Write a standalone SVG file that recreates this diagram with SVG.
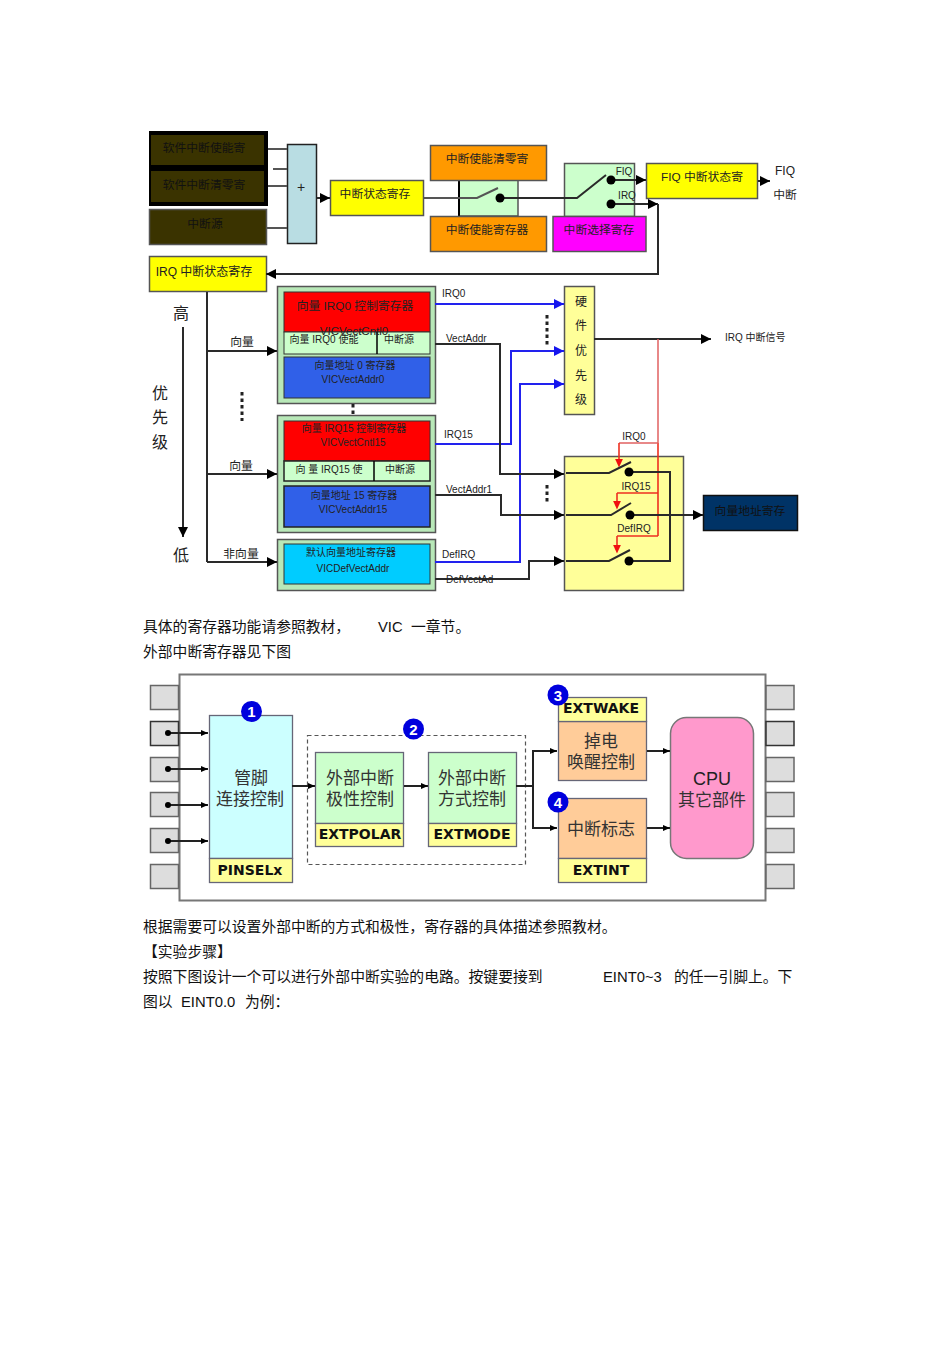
<svg xmlns="http://www.w3.org/2000/svg" width="950" height="1345" viewBox="0 0 950 1345">
<style>
text{font-family:"Liberation Sans","Noto Sans CJK SC",sans-serif;text-anchor:middle;fill:#222;font-size:11.800px}
.s{font-size:10px}
.l{text-anchor:start}
.b{font-size:14px}
.p{font-size:14.800px;text-anchor:start;fill:#111}
.k{font-weight:bold;fill:#111;font-family:"DejaVu Sans","Liberation Sans",sans-serif;font-size:14px}
.c{font-size:17px;fill:#333}
.n{font-size:15px;font-weight:bold;fill:#fff}
.box{stroke:#555;stroke-width:1.5}
.w{fill:none;stroke:#2a2a2a;stroke-width:2}
.a{marker-end:url(#ar)}
.bl{fill:none;stroke:#2222ee;stroke-width:2;marker-end:url(#ab)}
.r{fill:none;stroke:#e06060;stroke-width:1.5}
.ro{fill:none;stroke:#ee3020;stroke-width:1.6}
.ra{marker-end:url(#ae)}
.d{fill:#000}
.gw{fill:none;stroke:#222;stroke-width:2}
.ga{marker-end:url(#as)}
.pin{fill:#ddd;stroke:#666;stroke-width:1.5}
.dl{fill:none;stroke:#222;stroke-width:3;stroke-dasharray:3.500 3}
.t{stroke:#667;stroke-width:1.3}
</style>
<defs>
<marker id="ar" markerUnits="userSpaceOnUse" markerWidth="11" markerHeight="11" refX="10" refY="5.500" orient="auto"><path d="M0 0.500L10 5.500L0 10.500z" fill="#000"/></marker>
<marker id="ab" markerUnits="userSpaceOnUse" markerWidth="11" markerHeight="11" refX="10" refY="5.500" orient="auto"><path d="M0 0.500L10 5.500L0 10.500z" fill="#1515ee"/></marker>
<marker id="ae" markerUnits="userSpaceOnUse" markerWidth="11" markerHeight="11" refX="5.500" refY="5.500" orient="auto"><path d="M-2 0.500L9 5.500L-2 10.500z" fill="#f01010"/></marker>
<marker id="as" markerUnits="userSpaceOnUse" markerWidth="8" markerHeight="8" refX="7" refY="4" orient="auto"><path d="M0 1L7 4L0 7z" fill="#000"/></marker>
</defs>
<rect width="950" height="1345" fill="#fff"/>

<g id="sw-group"><rect x="149" y="131" width="119" height="75" fill="#000"/></g>
<g id="n1"><rect x="151" y="135" width="113" height="30" fill="#3a3300"/><text x="204" y="152" style="fill:#111">软件中断使能寄</text></g>
<g id="n2"><rect x="151" y="171" width="113" height="31" fill="#3a3300"/><text x="204" y="189" style="fill:#111">软件中断清零寄</text></g>
<g id="n3"><rect x="149.500" y="209.500" width="117" height="35" fill="#3a3300" class="box"/><text x="205" y="228" style="fill:#111">中断源</text></g>
<g id="plus"><rect x="287.500" y="144.500" width="29" height="99" fill="#b9dde3" class="box" style="stroke:#222"/><text x="301" y="192" class="b">+</text></g>
<g id="status"><rect x="330.500" y="180.500" width="93" height="35" fill="#ff0" class="box"/><text x="375" y="198">中断状态寄存</text></g>
<g id="sw1"><rect x="459" y="180" width="59" height="36" fill="#ccffcc" class="box"/><path d="M459 180V216" stroke="#000" stroke-width="2"/></g>
<g id="clr"><rect x="430.500" y="145.500" width="116" height="35" fill="#f90" class="box"/><text x="487" y="163">中断使能清零寄</text></g>
<g id="en"><rect x="430.500" y="216.500" width="116" height="35" fill="#f90" class="box"/><text x="487" y="234">中断使能寄存器</text></g>
<g id="sw2"><rect x="564.500" y="163.500" width="70" height="53" fill="#ccffcc" class="box"/><text x="624" y="175" class="s">FIQ</text><text x="627" y="199" class="s">IRQ</text></g>
<g id="sel"><rect x="553" y="216.500" width="93" height="35" fill="#f0f" class="box"/><text x="599" y="234">中断选择寄存</text></g>
<g id="fiq"><rect x="646.500" y="163.500" width="111" height="35" fill="#ff0" class="box"/><text x="702" y="181">FIQ 中断状态寄</text></g>
<text x="785" y="175" style="font-size:12px">FIQ</text>
<text x="785" y="199">中断</text>
<g id="irq"><rect x="149.500" y="256.500" width="117" height="35" fill="#ff0" class="box"/><text x="204" y="276" style="font-size:12px">IRQ 中断状态寄存</text></g>

<text x="181" y="319" style="font-size:16px">高</text>
<text x="160" y="399" style="font-size:16px">优</text>
<text x="160" y="423" style="font-size:16px">先</text>
<text x="160" y="448" style="font-size:16px">级</text>
<text x="181" y="561" style="font-size:16px">低</text>
<text x="242" y="346">向量</text>
<text x="241" y="470">向量</text>
<text x="241" y="558">非向量</text>

<g id="vic0"><rect x="277.500" y="286.500" width="158" height="117" fill="#b8e8b8" class="box"/>
<rect x="284" y="292" width="146" height="40" fill="#f00" stroke="#333"/><text x="355" y="310">向量 IRQ0 控制寄存器</text>
<rect x="284" y="332" width="146" height="22" fill="#ccffcc" stroke="#333"/><path d="M377 332V354" stroke="#000" stroke-width="1.500"/><text x="324" y="343" class="s">向量 IRQ0 使能</text><text x="399" y="343" class="s">中断源</text>
<text x="354" y="335" style="font-size:11.500px">VICVectCntl0</text>
<rect x="284" y="357" width="146" height="41" fill="#3060e8" stroke="#333"/><text x="355" y="369" class="s">向量地址 0 寄存器</text><text x="353" y="383" class="s">VICVectAddr0</text></g>

<g id="vic15"><rect x="277.500" y="415.500" width="158" height="117" fill="#b8e8b8" class="box"/>
<rect x="284" y="421" width="146" height="40" fill="#f00" stroke="#333"/><text x="354" y="432" class="s">向量 IRQ15 控制寄存器</text><text x="353" y="446" class="s">VICVectCntl15</text>
<rect x="284" y="461" width="146" height="20" fill="#ccffcc" stroke="#222" stroke-width="1.500"/><path d="M374 461V481" stroke="#000" stroke-width="1.500"/><text x="329" y="473" class="s">向 量 IRQ15 使</text><text x="400" y="473" class="s">中断源</text>
<rect x="284" y="486" width="146" height="41" fill="#3060e8" stroke="#222" stroke-width="1.500"/><text x="354" y="499" class="s">向量地址 15 寄存器</text><text x="353" y="513" class="s">VICVectAddr15</text></g>

<g id="vicdef"><rect x="277.500" y="539.500" width="158" height="51" fill="#b8e8b8" class="box"/>
<rect x="284" y="544" width="146" height="40" fill="#00ccff" stroke="#333"/><text x="351" y="556" class="s">默认向量地址寄存器</text><text x="353" y="572" class="s">VICDefVectAddr</text></g>

<text x="442" y="297" class="s l">IRQ0</text>
<text x="446" y="342" class="s l">VectAddr</text>
<text x="444" y="438" class="s l">IRQ15</text>
<text x="446" y="493" class="s l">VectAddr1</text>
<text x="442" y="558" class="s l">DefIRQ</text>

<g id="hw"><rect x="564.500" y="286.500" width="30" height="128" fill="#ffff99" class="box"/>
<text x="581" y="306" style="font-size:12px">硬</text><text x="581" y="330" style="font-size:12px">件</text><text x="581" y="355" style="font-size:12px">优</text><text x="581" y="380" style="font-size:12px">先</text><text x="581" y="404" style="font-size:12px">级</text></g>
<text x="725" y="341" class="s l">IRQ 中断信号</text>

<g id="swbox"><rect x="564.500" y="456.500" width="119" height="134" fill="#ffff99" class="box"/>
<text x="634" y="440" class="s">IRQ0</text><text x="636" y="490" class="s">IRQ15</text><text x="634" y="532" class="s">DefIRQ</text></g>
<g id="vaddr"><rect x="703.500" y="495.500" width="94" height="35" fill="#003366" stroke="#111" stroke-width="1.500"/><text x="750" y="515" style="fill:#111">向量地址寄存</text></g>

<g id="connectors">
<path class="w" style="stroke:#555" d="M268 149H287M273 169H287M268 186H287M266 228H287"/>
<path class="w a" d="M317 198H330"/>
<path class="w" style="stroke:#555" d="M424 198H477L498 188"/>
<path class="w" d="M500 198H577L606 175"/>
<circle cx="500" cy="198" r="4.500" class="d"/>
<path class="w a" d="M611 180H646"/>
<path class="w a" d="M611 204H658"/>
<circle cx="611" cy="180" r="4.500" class="d"/><circle cx="611" cy="204" r="4.500" class="d"/>
<path class="w a" d="M758 181H770"/>
<path class="w a" d="M658 204V274H266"/>
<path class="w" d="M207 292V562"/>
<path class="w a" d="M207 351H277"/>
<path class="w a" d="M207 474H277"/>
<path class="w a" d="M207 562H277"/>
<path class="w a" d="M183 327V537"/>
<path class="bl" d="M435 304H564"/>
<path class="bl" d="M435 444H511V351H564"/>
<path class="bl" d="M435 562H520V384H564"/>
<path class="w a" d="M435 344H500V474H564"/>
<path class="w a" d="M435 495H501V515H564"/>
<path class="w a" d="M435 579H529V561H564"/>
<path class="w a" d="M594 339H711"/>
<path class="r" d="M658 339V443"/>
<path class="ro" d="M658 443V536M658 493H617M658 536H617"/>
<path class="r" d="M658 443H619"/>
<path class="ro ra" d="M619 443V464"/>
<path class="ro ra" d="M617 493V506"/>
<path class="ro ra" d="M617 536V550"/>
<path class="w" d="M566 473H609L631 462M629 472H670V561H629M566 515H611L631 503M566 561H609L630 550"/>
<path class="w a" d="M630 515H703"/>
<circle cx="629" cy="472" r="4.500" class="d"/><circle cx="630" cy="515" r="4.500" class="d"/><circle cx="629" cy="561" r="4.500" class="d"/>
<path class="dl" d="M242 392V421M353 404V415M547 315V345M547 485V503"/>
</g>
<text x="446" y="583" class="s l">DefVectAd</text>

<text x="143" y="632" class="p">具体的寄存器功能请参照教材，</text>
<text x="378" y="632" class="p">VIC</text><text x="411" y="632" class="p">一章节。</text>
<text x="143" y="657" class="p">外部中断寄存器见下图</text>

<g id="chip"><rect x="179.500" y="674.500" width="586" height="226" fill="#fff" stroke="#777" stroke-width="2"/></g>
<g id="pins">
<rect class="pin" x="150.500" y="685.500" width="28" height="24"/><rect class="pin" x="150.500" y="721.500" width="28" height="24" style="stroke:#333"/><rect class="pin" x="150.500" y="757.500" width="28" height="24"/><rect class="pin" x="150.500" y="792.500" width="28" height="24"/><rect class="pin" x="150.500" y="828.500" width="28" height="24"/><rect class="pin" x="150.500" y="864.500" width="28" height="24"/>
<rect class="pin" x="766" y="685.500" width="28" height="24"/><rect class="pin" x="766" y="721.500" width="28" height="24" style="stroke:#333"/><rect class="pin" x="766" y="757.500" width="28" height="24"/><rect class="pin" x="766" y="792.500" width="28" height="24"/><rect class="pin" x="766" y="828.500" width="28" height="24"/><rect class="pin" x="766" y="864.500" width="28" height="24"/>
</g>
<rect id="dash" x="307.500" y="735.500" width="218" height="129" fill="none" stroke="#555" stroke-width="1.200" stroke-dasharray="4 3"/>
<g id="pinsel"><rect x="209.500" y="715.500" width="83" height="143" fill="#ccffff" class="t"/><rect x="209.500" y="858.500" width="83" height="24" fill="#ffff99" class="t"/>
<text x="251" y="784" class="c">管脚</text><text x="250" y="805" class="c">连接控制</text><text x="250" y="875" class="k">PINSELx</text></g>
<g id="polar"><rect x="315.500" y="752.500" width="88" height="71" fill="#ccffcc" class="t"/><rect x="315.500" y="823.500" width="88" height="23" fill="#ffff99" class="t"/>
<text x="360" y="784" class="c">外部中断</text><text x="360" y="805" class="c">极性控制</text><text x="360" y="839" class="k">EXTPOLAR</text></g>
<g id="mode"><rect x="428.500" y="752.500" width="88" height="71" fill="#ccffcc" class="t"/><rect x="428.500" y="823.500" width="88" height="23" fill="#ffff99" class="t"/>
<text x="472" y="784" class="c">外部中断</text><text x="472" y="805" class="c">方式控制</text><text x="472" y="839" class="k">EXTMODE</text></g>
<g id="wake"><rect x="558.500" y="721.500" width="88" height="59" fill="#ffcc99" class="t"/><rect x="558.500" y="697.500" width="88" height="24" fill="#ffff99" class="t"/>
<text x="601" y="747" class="c">掉电</text><text x="601" y="768" class="c">唤醒控制</text><text x="601" y="713" class="k">EXTWAKE</text></g>
<g id="flag"><rect x="558.500" y="798.500" width="88" height="60" fill="#ffcc99" class="t"/><rect x="558.500" y="858.500" width="88" height="24" fill="#ffff99" class="t"/>
<text x="601" y="835" class="c">中断标志</text><text x="601" y="875" class="k">EXTINT</text></g>
<g id="cpu"><rect x="670.500" y="717.500" width="83" height="141" rx="16" fill="#ff99cc" stroke="#777" stroke-width="1.500"/><text x="712" y="785" style="font-size:18px;fill:#222">CPU</text><text x="712" y="806" class="c">其它部件</text></g>
<g id="conn2">
<path class="gw ga" d="M168 733H208"/><path class="gw ga" d="M168 769H208"/><path class="gw ga" d="M168 805H208"/><path class="gw ga" d="M168 841H208"/>
<circle cx="168" cy="733" r="3" class="d"/><circle cx="168" cy="769" r="3" class="d"/><circle cx="168" cy="805" r="3" class="d"/><circle cx="168" cy="841" r="3" class="d"/>
<path class="gw ga" d="M292 786H315"/><path class="gw ga" d="M404 786H428"/>
<path class="gw" d="M516 786H533"/><path class="gw ga" d="M533 786V751H557"/><path class="gw ga" d="M533 786V828H557"/>
<path class="gw ga" d="M647 751H670"/><path class="gw ga" d="M647 828H670"/>
</g>
<g id="b1"><circle cx="251.500" cy="711.500" r="10.500" fill="#0000dd"/><text x="251.500" y="717" class="n">1</text></g>
<g id="b2"><circle cx="413.500" cy="729" r="10.500" fill="#0000dd"/><text x="413.500" y="734.500" class="n">2</text></g>
<g id="b3"><circle cx="558" cy="695" r="10.500" fill="#0000dd"/><text x="558" y="700.500" class="n">3</text></g>
<g id="b4"><circle cx="558" cy="802" r="10.500" fill="#0000dd"/><text x="558" y="807.500" class="n">4</text></g>

<text x="143" y="932" class="p">根据需要可以设置外部中断的方式和极性，寄存器的具体描述参照教材。</text>
<text x="143" y="957" class="p">【实验步骤】</text>
<text x="143" y="982" class="p">按照下图设计一个可以进行外部中断实验的电路。按键要接到</text>
<text x="603" y="982" class="p">EINT0~3</text><text x="674" y="982" class="p">的任一引脚上。下</text>
<text x="143" y="1007" class="p">图以</text><text x="181" y="1007" class="p">EINT0.0</text><text x="245" y="1007" class="p">为例：</text>
</svg>
